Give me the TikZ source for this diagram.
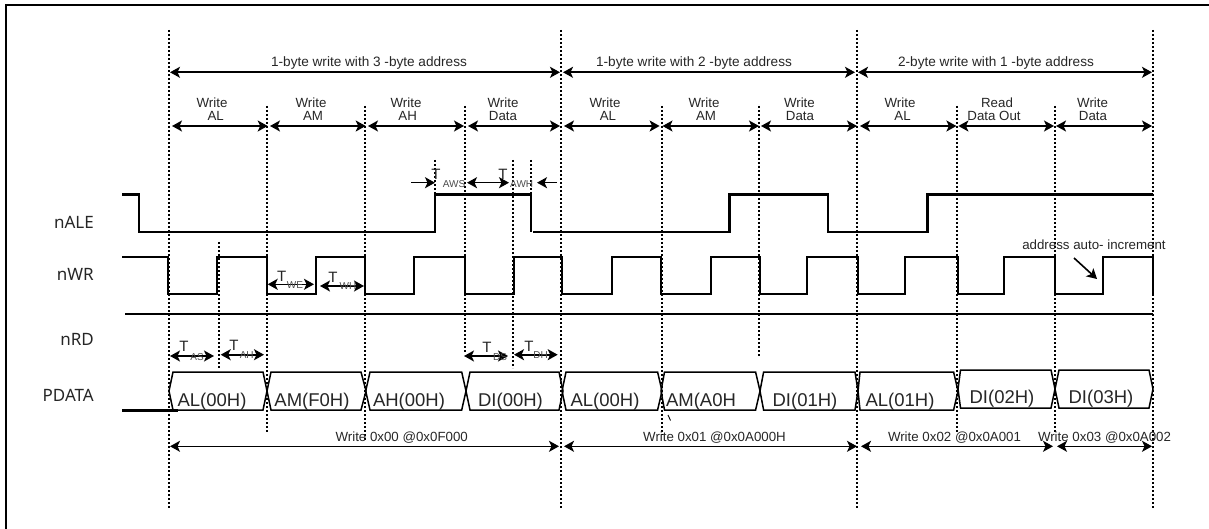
\documentclass[tikz,border=0pt]{standalone}
\usepackage{fontspec}
\setmainfont{Liberation Sans}
\newfontfamily\sigfont{Noto Sans}
\usetikzlibrary{arrows.meta}
\tikzset{
  dotline/.style={line width=1.7pt,dash pattern=on 2pt off 2pt},
  signal/.style={line width=2.8pt,line join=miter,line cap=butt},
  tip/.style={},
  span/.style={line width=1.6pt,{Stealth[length=10pt,width=11pt,inset=2.5pt]}-{Stealth[length=10pt,width=11pt,inset=2.5pt]}},
  oneway/.style={line width=1.6pt,-{Stealth[length=10pt,width=11pt,inset=2.5pt]}},
  bus/.style={line width=1.5pt,line join=miter},
  small/.style={inner sep=0pt,anchor=base,font=\fontsize{13.3}{13.3}\selectfont,text=black!85},
  title/.style={inner sep=0pt,anchor=base,font=\fontsize{13.6}{13.6}\selectfont,text=black!85},
  data/.style={inner sep=0pt,anchor=base,font=\fontsize{18.5}{18.5}\selectfont,text=black!85},
  subs/.style={inner sep=0pt,anchor=base,font=\fontsize{10}{10}\selectfont,text=black!70},
  tee/.style={inner sep=0pt,anchor=base,font=\fontsize{15}{15}\selectfont,text=black!85},
  sig/.style={inner sep=0pt,anchor=base east,font=\sigfont\fontsize{17}{17}\selectfont,text=black!85}
}
\newcommand{\hexa}[6]{\draw[bus] (#1,{(#5+#6)/2}) -- (#2,#5) -- (#3,#5) -- (#4,{(#5+#6)/2}) -- (#3,#6) -- (#2,#6) -- cycle;}
\begin{document}
\begin{tikzpicture}[x=1pt,y=-1pt]
\useasboundingbox (0,0) rectangle (1209,529);
% frame, open on the right and at the bottom
\draw[line width=2pt] (6,529) -- (6,5.5) -- (1209,5.5);
% dotted guides
\foreach \x/\a/\b in {169/30/508,561/30/508,857/30/508,1153/30/508,
  267/106/432,365/106/440,465/106/353,662/106/435,759/106/357,957/106/433,1055/106/433,
  219/242/368,513/160/368,531/160/195,435/160/196}
  \draw[dotline] (\x,\a) -- (\x,\b);
% signals
\draw[signal] (122,194.5) -- (139,194.5) -- (139,232) -- (435,232) -- (435,194.5) -- (531,194.5) -- (531,232);
\draw[signal] (533,232) -- (729.5,232) -- (729.5,194.5) -- (828,194.5) -- (828,232) -- (927.5,232) -- (927.5,194.5) -- (1153,194.5);
\draw[signal] (122,257) -- (168,257) -- (168,294) -- (217,294) -- (217,257) -- (267,257) -- (267,294) -- (316,294) -- (316,257) -- (365,257) -- (365,294) -- (414,294) -- (414,257) -- (465,257) -- (465,294) -- (514,294) -- (514,257) -- (562,257) -- (562,294) -- (612,294) -- (612,257) -- (661,257) -- (661,294) -- (711,294) -- (711,257) -- (760,257) -- (760,294) -- (807,294) -- (807,257) -- (858,257) -- (858,294) -- (905,294) -- (905,257) -- (958,257) -- (958,294) -- (1004,294) -- (1004,257) -- (1055,257) -- (1055,294) -- (1103,294) -- (1103,257) -- (1153,257) -- (1153,294);
\draw[signal] (125,314) -- (1153,314);
\draw[signal] (122,410.5) -- (178,410.5);
% bus
\hexa{169}{173}{263}{267}{372}{410}
\hexa{267}{271}{361}{366}{372}{410}
\hexa{365.7}{370}{461.7}{466}{372}{410}
\hexa{466}{470}{559}{563}{372}{410}
\hexa{562}{566}{657.6}{662}{372}{410}
\hexa{661}{664.5}{755.6}{760}{372}{410}
\hexa{760}{763.6}{855}{858}{372}{410}
\hexa{858}{860}{953.6}{958}{372}{410}
\hexa{958}{960.5}{1051}{1055}{370}{408}
\hexa{1055}{1059}{1149}{1153}{370}{408}
\draw[line width=0.9pt] (668,415) -- (670.5,420.5);
% spans
\foreach \a/\b in {170/560,563/855,858/1152}
  \draw[span] (\a,72.3) -- (\b,72.3);
\foreach \a/\b in {172/267.7,270/365.7,368/464,468/560,564/659.6,662.5/759,761/857,860/956.4,958.4/1054,1056/1152}
  \draw[span] (\a,126) -- (\b,126);
\foreach \a/\b in {170/559,564/857,861/1053,1057/1152}
  \draw[span] (\a,446.3) -- (\b,446.3);
% timing arrows
\draw[oneway] (411,182.7) -- (435,182.7);
\draw[span] (467,182.7) -- (509,182.7);
\draw[oneway] (557,182.7) -- (537,182.7);
\draw[span] (267.7,284.3) -- (314,284.3);
\draw[span] (320,286) -- (364,286);
\draw[span] (170,356) -- (214,356);
\draw[span] (220.7,354.7) -- (264,354.7);
\draw[span] (464,356) -- (508,356);
\draw[span] (514,354.7) -- (557.7,354.7);
\draw[oneway] (1074,258) -- (1097,279);
% group titles
\node[title] (g1) at (369,67) {1-byte write with 3 -byte address};
\node[title] (g2) at (694,67) {1-byte write with 2 -byte address};
\node[title] (g3) at (996,67) {2-byte write with 1 -byte address};
% phase labels
\node[small] (p1a) at (212,108) {Write};  \node[small] (p1b) at (215.7,121) {AL};
\node[small] (p2a) at (311,108) {Write};  \node[small] (p2b) at (313,121) {AM};
\node[small] (p3a) at (406,108) {Write};  \node[small] (p3b) at (407.7,121) {AH};
\node[small] (p4a) at (503,108) {Write};  \node[small] (p4b) at (503,121) {Data};
\node[small] (p5a) at (605,108) {Write};  \node[small] (p5b) at (608,121) {AL};
\node[small] (p6a) at (704,108) {Write};  \node[small] (p6b) at (706,121) {AM};
\node[small] (p7a) at (799.4,108) {Write};\node[small] (p7b) at (800,121) {Data};
\node[small] (p8a) at (900,108) {Write};  \node[small] (p8b) at (902.6,121) {AL};
\node[small] (p9a) at (997,108) {Read};   \node[small] (p9b) at (994,121) {Data Out};
\node[small] (p10a) at (1092.6,108) {Write};\node[small] (p10b) at (1093,121) {Data};
% timing labels
\node[tee] (t1) at (436,180) {T};  \node[subs] (s1) at (454,188) {AWS};
\node[tee] (t2) at (503,180) {T};  \node[subs] (s2) at (521.7,188) {AWH};
\node[tee] (t3) at (281.7,281.7) {T}; \node[subs] (s3) at (295,288) {WE};
\node[tee] (t4) at (333,282) {T};  \node[subs] (s4) at (348,289) {WH};
\node[tee] (t5) at (184,351.7) {T}; \node[subs] (s5) at (197,360) {AS};
\node[tee] (t6) at (234,350) {T};  \node[subs] (s6) at (246.7,358) {AH};
\node[tee] (t7) at (487,352) {T};  \node[subs] (s7) at (500,360) {DS};
\node[tee] (t8) at (529,351) {T};  \node[subs] (s8) at (540.7,358) {DH};
% signal names
\node[sig] (nale) at (94,229) {nALE};
\node[sig] (nwr) at (94,280.7) {nWR};
\node[sig] (nrd) at (94,345) {nRD};
\node[sig] (pdata) at (94,401.7) {PDATA};
% bus values
\node[data] (d1) at (212,406) {AL(00H)};
\node[data] (d2) at (312,406) {AM(F0H)};
\node[data] (d3) at (409,406) {AH(00H)};
\node[data] (d4) at (510.5,406) {DI(00H)};
\node[data] (d5) at (605,406) {AL(00H)};
\node[data] (d6) at (701,406) {AM(A0H};
\node[data] (d7) at (805,406) {DI(01H)};
\node[data] (d8) at (900,406) {AL(01H)};
\node[data] (d9) at (1002,403) {DI(02H)};
\node[data] (d10) at (1101,403) {DI(03H)};
% transaction labels
\node[small] (w1) at (401.7,441) {Write 0x00 @0x0F000};
\node[small] (w2) at (714.5,441) {Write 0x01 @0x0A000H};
\node[small] (w3) at (954.5,441) {Write 0x02 @0x0A001};
\node[small] (w4) at (1104.5,441) {Write 0x03 @0x0A002};
\node[small] (auto) at (1094,250) {address auto- increment};
\end{tikzpicture}
\end{document}
